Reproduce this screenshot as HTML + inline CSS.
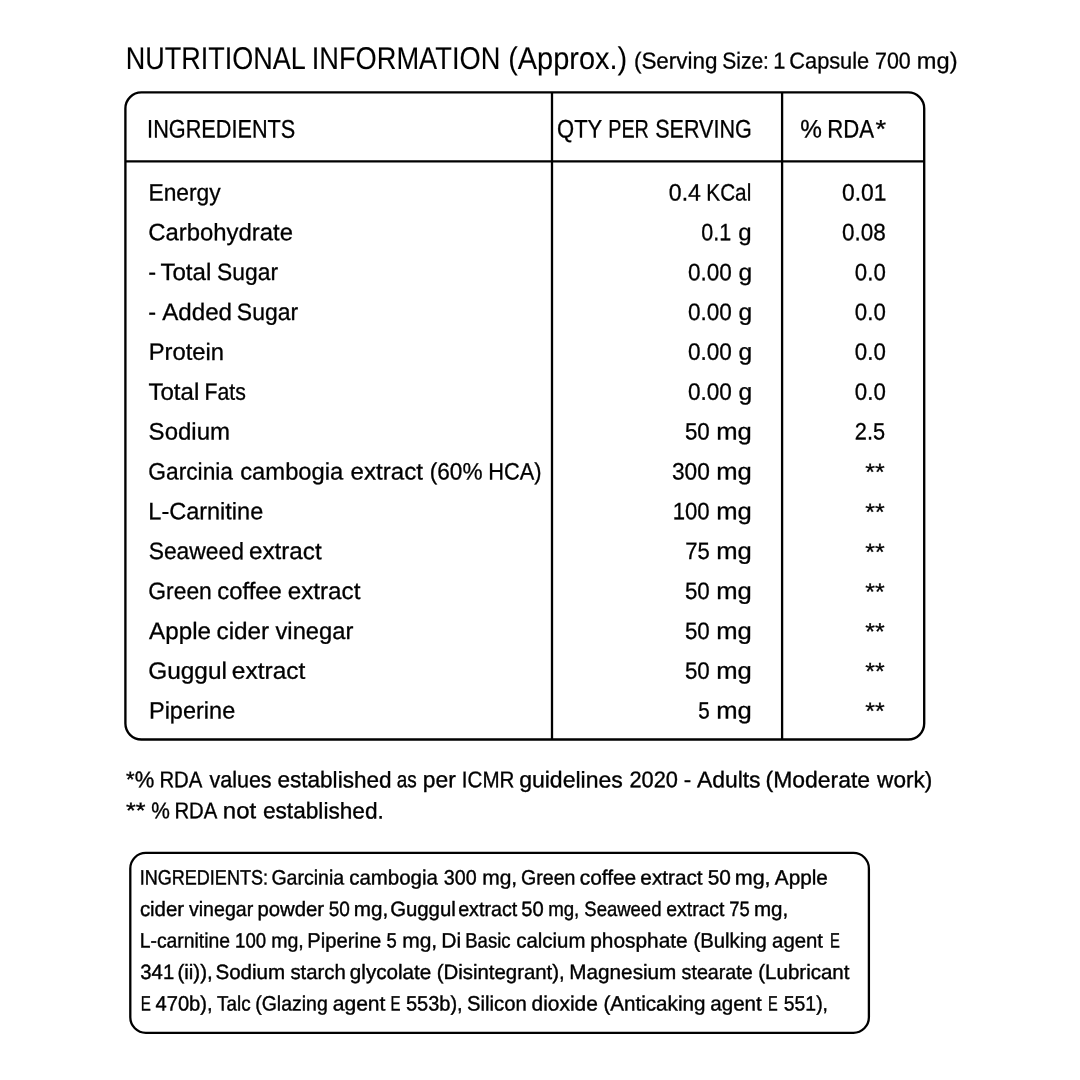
<!DOCTYPE html>
<html lang="en"><head><meta charset="utf-8"><title>Nutritional Information</title>
<style>
html,body{margin:0;padding:0;background:#fff}
body{width:1080px;height:1080px;position:relative;overflow:hidden;font-family:"Liberation Sans",sans-serif;color:#000}
#tx{position:absolute;left:0;top:0;width:1080px;height:1080px;will-change:transform;text-rendering:geometricPrecision}
.l{position:absolute;left:0;top:0;width:1080px;line-height:1;white-space:pre;-webkit-text-stroke:0.3px #000}
.l span{position:absolute;left:0;top:0;transform-origin:0 0;display:block}
</style></head><body>
<svg width="1080" height="1080" viewBox="0 0 1080 1080" style="position:absolute;left:0;top:0" fill="none" stroke="#000">
<rect x="125.4" y="92.4" width="798.8" height="647.1" rx="16" ry="16" stroke-width="2.35"/>
<path d="M552 92.4V739.5M782.1 92.4V739.5M125.4 161.4H924.2" stroke-width="2.3"/>
<rect x="130.3" y="852.9" width="738.6" height="179.9" rx="15.5" ry="15.5" stroke-width="2.3"/>
</svg>
<div id="tx">
<div class="l" style="font-size:31.4px;-webkit-text-stroke-width:0.1px"><span style="transform:translate(125.67px,42.90px) scaleX(0.8601) rotate(.03deg)">NUTRITIONAL</span> <span style="transform:translate(311.74px,42.90px) scaleX(0.8674) rotate(.03deg)">INFORMATION</span> <span style="transform:translate(508.20px,42.90px) scaleX(0.9215) rotate(.03deg)">(Approx.)</span></div>
<div class="l" style="font-size:23.0px"><span style="transform:translate(633.92px,49.55px) scaleX(0.9761) rotate(.03deg)">(Serving</span> <span style="transform:translate(722.29px,49.55px) scaleX(0.9120) rotate(.03deg)">Size:</span> <span style="transform:translate(773.24px,49.55px) scaleX(0.9507) rotate(.03deg)">1</span> <span style="transform:translate(789.31px,49.55px) scaleX(0.9465) rotate(.03deg)">Capsule</span> <span style="transform:translate(875.00px,49.55px) scaleX(0.9323) rotate(.03deg)">700</span> <span style="transform:translate(916.84px,49.55px) scaleX(1.0271) rotate(.03deg)">mg)</span></div>
<div class="l" style="font-size:25.4px"><span style="transform:translate(147.13px,117.55px) scaleX(0.8537) rotate(.03deg)">INGREDIENTS</span></div>
<div class="l" style="font-size:25.4px"><span style="transform:translate(557.05px,117.55px) scaleX(0.8672) rotate(.03deg)">QTY</span> <span style="transform:translate(608.27px,117.55px) scaleX(0.7781) rotate(.03deg)">PER</span> <span style="transform:translate(655.19px,117.55px) scaleX(0.8486) rotate(.03deg)">SERVING</span></div>
<div class="l" style="font-size:25.4px"><span style="transform:translate(800.31px,117.55px) scaleX(0.9594) rotate(.03deg)">%</span> <span style="transform:translate(827.23px,117.55px) scaleX(0.8732) rotate(.03deg)">RDA</span><span style="transform:translate(875.48px,117.55px) scaleX(1.0722) rotate(.03deg)">*</span></div>
<div class="l" style="font-size:23.7px"><span style="transform:translate(148.52px,182.45px) scaleX(0.9615) rotate(.03deg)">Energy</span></div>
<div class="l" style="font-size:23.7px"><span style="transform:translate(668.82px,182.45px) scaleX(0.9729) rotate(.03deg)">0.4</span> <span style="transform:translate(706.33px,182.45px) scaleX(0.8751) rotate(.03deg)">KCal</span></div>
<div class="l" style="font-size:23.7px"><span style="transform:translate(841.98px,182.45px) scaleX(0.9638) rotate(.03deg)">0.01</span></div>
<div class="l" style="font-size:23.7px"><span style="transform:translate(148.26px,222.30px) scaleX(1.0086) rotate(.03deg)">Carbohydrate</span></div>
<div class="l" style="font-size:23.7px"><span style="transform:translate(701.19px,222.30px) scaleX(0.9095) rotate(.03deg)">0.1</span> <span style="transform:translate(738.27px,222.30px) scaleX(1.0149) rotate(.03deg)">g</span></div>
<div class="l" style="font-size:23.7px"><span style="transform:translate(842.10px,222.30px) scaleX(0.9493) rotate(.03deg)">0.08</span></div>
<div class="l" style="font-size:23.7px"><span style="transform:translate(148.24px,262.02px) scaleX(0.9944) rotate(.03deg)">-</span> <span style="transform:translate(160.39px,262.02px) scaleX(1.0187) rotate(.03deg)">Total</span> <span style="transform:translate(217.13px,262.02px) scaleX(0.9631) rotate(.03deg)">Sugar</span></div>
<div class="l" style="font-size:23.7px"><span style="transform:translate(688.02px,262.16px) scaleX(0.9518) rotate(.03deg)">0.00</span> <span style="transform:translate(738.45px,262.16px) scaleX(1.0383) rotate(.03deg)">g</span></div>
<div class="l" style="font-size:23.7px"><span style="transform:translate(854.85px,262.16px) scaleX(0.9395) rotate(.03deg)">0.0</span></div>
<div class="l" style="font-size:23.7px"><span style="transform:translate(148.24px,302.00px) scaleX(0.9930) rotate(.03deg)">-</span> <span style="transform:translate(162.19px,302.00px) scaleX(1.0197) rotate(.03deg)">Added</span> <span style="transform:translate(236.86px,302.00px) scaleX(0.9684) rotate(.03deg)">Sugar</span></div>
<div class="l" style="font-size:23.7px"><span style="transform:translate(688.02px,302.00px) scaleX(0.9518) rotate(.03deg)">0.00</span> <span style="transform:translate(738.45px,302.00px) scaleX(1.0383) rotate(.03deg)">g</span></div>
<div class="l" style="font-size:23.7px"><span style="transform:translate(854.85px,302.00px) scaleX(0.9395) rotate(.03deg)">0.0</span></div>
<div class="l" style="font-size:23.7px"><span style="transform:translate(148.75px,341.85px) scaleX(1.0031) rotate(.03deg)">Protein</span></div>
<div class="l" style="font-size:23.7px"><span style="transform:translate(688.02px,341.85px) scaleX(0.9518) rotate(.03deg)">0.00</span> <span style="transform:translate(738.45px,341.85px) scaleX(1.0383) rotate(.03deg)">g</span></div>
<div class="l" style="font-size:23.7px"><span style="transform:translate(854.85px,341.83px) scaleX(0.9395) rotate(.03deg)">0.0</span></div>
<div class="l" style="font-size:23.7px"><span style="transform:translate(148.41px,381.70px) scaleX(1.0161) rotate(.03deg)">Total</span> <span style="transform:translate(204.49px,381.70px) scaleX(0.8970) rotate(.03deg)">Fats</span></div>
<div class="l" style="font-size:23.7px"><span style="transform:translate(688.02px,381.70px) scaleX(0.9518) rotate(.03deg)">0.00</span> <span style="transform:translate(738.45px,381.70px) scaleX(1.0383) rotate(.03deg)">g</span></div>
<div class="l" style="font-size:23.7px"><span style="transform:translate(854.85px,381.70px) scaleX(0.9395) rotate(.03deg)">0.0</span></div>
<div class="l" style="font-size:23.7px"><span style="transform:translate(148.62px,421.55px) scaleX(1.0141) rotate(.03deg)">Sodium</span></div>
<div class="l" style="font-size:23.7px"><span style="transform:translate(684.98px,421.55px) scaleX(0.9413) rotate(.03deg)">50</span> <span style="transform:translate(716.14px,421.55px) scaleX(1.0822) rotate(.03deg)">mg</span></div>
<div class="l" style="font-size:23.7px"><span style="transform:translate(854.78px,421.55px) scaleX(0.9190) rotate(.03deg)">2.5</span></div>
<div class="l" style="font-size:23.7px"><span style="transform:translate(148.29px,461.40px) scaleX(0.9607) rotate(.03deg)">Garcinia</span> <span style="transform:translate(240.22px,461.40px) scaleX(1.0040) rotate(.03deg)">cambogia</span> <span style="transform:translate(350.54px,461.40px) scaleX(1.0179) rotate(.03deg)">extract</span> <span style="transform:translate(429.80px,461.40px) scaleX(0.9535) rotate(.03deg)">(60%</span> <span style="transform:translate(488.18px,461.40px) scaleX(0.9204) rotate(.03deg)">HCA)</span></div>
<div class="l" style="font-size:23.7px"><span style="transform:translate(671.96px,461.40px) scaleX(0.9573) rotate(.03deg)">300</span> <span style="transform:translate(716.14px,461.40px) scaleX(1.0822) rotate(.03deg)">mg</span></div>
<div class="l" style="font-size:23.7px"><span style="transform:translate(865.27px,462.10px) scaleX(1.0519) rotate(.03deg)">**</span></div>
<div class="l" style="font-size:23.7px"><span style="transform:translate(148.33px,501.25px) scaleX(0.9917) rotate(.03deg)">L-Carnitine</span></div>
<div class="l" style="font-size:23.7px"><span style="transform:translate(672.73px,501.25px) scaleX(0.9354) rotate(.03deg)">100</span> <span style="transform:translate(716.14px,501.25px) scaleX(1.0822) rotate(.03deg)">mg</span></div>
<div class="l" style="font-size:23.7px"><span style="transform:translate(865.27px,501.95px) scaleX(1.0519) rotate(.03deg)">**</span></div>
<div class="l" style="font-size:23.7px"><span style="transform:translate(148.71px,541.10px) scaleX(0.9637) rotate(.03deg)">Seaweed</span> <span style="transform:translate(249.00px,541.10px) scaleX(1.0221) rotate(.03deg)">extract</span></div>
<div class="l" style="font-size:23.7px"><span style="transform:translate(685.20px,541.10px) scaleX(0.9302) rotate(.03deg)">75</span> <span style="transform:translate(716.14px,541.10px) scaleX(1.0822) rotate(.03deg)">mg</span></div>
<div class="l" style="font-size:23.7px"><span style="transform:translate(865.27px,541.94px) scaleX(1.0519) rotate(.03deg)">**</span></div>
<div class="l" style="font-size:23.7px"><span style="transform:translate(148.28px,580.95px) scaleX(0.9651) rotate(.03deg)">Green</span> <span style="transform:translate(217.31px,580.95px) scaleX(1.0073) rotate(.03deg)">coffee</span> <span style="transform:translate(287.70px,580.95px) scaleX(1.0235) rotate(.03deg)">extract</span></div>
<div class="l" style="font-size:23.7px"><span style="transform:translate(684.98px,580.95px) scaleX(0.9413) rotate(.03deg)">50</span> <span style="transform:translate(716.14px,580.95px) scaleX(1.0822) rotate(.03deg)">mg</span></div>
<div class="l" style="font-size:23.7px"><span style="transform:translate(865.27px,581.65px) scaleX(1.0519) rotate(.03deg)">**</span></div>
<div class="l" style="font-size:23.7px"><span style="transform:translate(149.13px,620.90px) scaleX(1.0219) rotate(.03deg)">Apple</span> <span style="transform:translate(216.47px,620.90px) scaleX(1.0278) rotate(.03deg)">cider</span> <span style="transform:translate(275.50px,620.90px) scaleX(1.0022) rotate(.03deg)">vinegar</span></div>
<div class="l" style="font-size:23.7px"><span style="transform:translate(684.98px,620.96px) scaleX(0.9413) rotate(.03deg)">50</span> <span style="transform:translate(716.14px,620.96px) scaleX(1.0822) rotate(.03deg)">mg</span></div>
<div class="l" style="font-size:23.7px"><span style="transform:translate(865.27px,621.50px) scaleX(1.0519) rotate(.03deg)">**</span></div>
<div class="l" style="font-size:23.7px"><span style="transform:translate(148.22px,660.65px) scaleX(1.0303) rotate(.03deg)">Guggul</span> <span style="transform:translate(231.86px,660.65px) scaleX(1.0327) rotate(.03deg)">extract</span></div>
<div class="l" style="font-size:23.7px"><span style="transform:translate(684.98px,660.65px) scaleX(0.9413) rotate(.03deg)">50</span> <span style="transform:translate(716.14px,660.65px) scaleX(1.0822) rotate(.03deg)">mg</span></div>
<div class="l" style="font-size:23.7px"><span style="transform:translate(865.27px,661.35px) scaleX(1.0519) rotate(.03deg)">**</span></div>
<div class="l" style="font-size:23.7px"><span style="transform:translate(148.96px,700.50px) scaleX(0.9926) rotate(.03deg)">Piperine</span></div>
<div class="l" style="font-size:23.7px"><span style="transform:translate(698.28px,700.50px) scaleX(0.8677) rotate(.03deg)">5</span> <span style="transform:translate(716.14px,700.50px) scaleX(1.0822) rotate(.03deg)">mg</span></div>
<div class="l" style="font-size:23.7px"><span style="transform:translate(865.27px,701.10px) scaleX(1.0519) rotate(.03deg)">**</span></div>
<div class="l" style="font-size:22.7px;-webkit-text-stroke-width:0.35px"><span style="transform:translate(126.10px,768.35px) scaleX(0.9688) rotate(.03deg)">*%</span> <span style="transform:translate(159.43px,768.35px) scaleX(0.8955) rotate(.03deg)">RDA</span> <span style="transform:translate(209.44px,768.35px) scaleX(0.9479) rotate(.03deg)">values</span> <span style="transform:translate(277.47px,768.35px) scaleX(0.9938) rotate(.03deg)">established</span> <span style="transform:translate(396.72px,768.35px) scaleX(0.8351) rotate(.03deg)">as</span> <span style="transform:translate(422.84px,768.35px) scaleX(1.0046) rotate(.03deg)">per</span> <span style="transform:translate(461.88px,768.35px) scaleX(0.9067) rotate(.03deg)">ICMR</span> <span style="transform:translate(519.14px,768.35px) scaleX(1.0152) rotate(.03deg)">guidelines</span> <span style="transform:translate(629.43px,768.35px) scaleX(0.9611) rotate(.03deg)">2020</span> <span style="transform:translate(683.82px,768.35px) scaleX(0.9820) rotate(.03deg)">-</span> <span style="transform:translate(696.95px,768.35px) scaleX(1.0088) rotate(.03deg)">Adults</span> <span style="transform:translate(765.58px,768.35px) scaleX(1.0109) rotate(.03deg)">(Moderate</span> <span style="transform:translate(877.12px,768.35px) scaleX(0.9955) rotate(.03deg)">work)</span></div>
<div class="l" style="font-size:22.7px;-webkit-text-stroke-width:0.35px"><span style="transform:translate(125.99px,799.35px) scaleX(1.0996) rotate(.03deg)">**</span> <span style="transform:translate(151.25px,799.35px) scaleX(0.9232) rotate(.03deg)">%</span> <span style="transform:translate(174.43px,799.35px) scaleX(0.8955) rotate(.03deg)">RDA</span> <span style="transform:translate(222.82px,799.35px) scaleX(1.0560) rotate(.03deg)">not</span> <span style="transform:translate(262.96px,799.35px) scaleX(0.9982) rotate(.03deg)">established.</span></div>
<div class="l" style="font-size:20.7px;-webkit-text-stroke-width:0.4px"><span style="transform:translate(139.65px,868.55px) scaleX(0.8727) rotate(.03deg)">INGREDIENTS:</span> <span style="transform:translate(271.43px,868.55px) scaleX(0.9436) rotate(.03deg)">Garcinia</span> <span style="transform:translate(349.25px,868.55px) scaleX(0.9880) rotate(.03deg)">cambogia</span> <span style="transform:translate(443.83px,868.55px) scaleX(0.9503) rotate(.03deg)">300</span> <span style="transform:translate(482.18px,868.55px) scaleX(1.0137) rotate(.03deg)">mg,</span> <span style="transform:translate(521.10px,868.55px) scaleX(0.9464) rotate(.03deg)">Green</span> <span style="transform:translate(579.70px,868.55px) scaleX(1.0097) rotate(.03deg)">coffee</span> <span style="transform:translate(640.34px,868.55px) scaleX(1.0034) rotate(.03deg)">extract</span> <span style="transform:translate(707.78px,868.55px) scaleX(1.0081) rotate(.03deg)">50</span> <span style="transform:translate(734.75px,868.55px) scaleX(1.0386) rotate(.03deg)">mg,</span> <span style="transform:translate(774.83px,868.55px) scaleX(1.0008) rotate(.03deg)">Apple</span></div>
<div class="l" style="font-size:20.7px;-webkit-text-stroke-width:0.4px"><span style="transform:translate(139.91px,900.05px) scaleX(0.9853) rotate(.03deg)">cider</span> <span style="transform:translate(188.96px,900.05px) scaleX(0.9467) rotate(.03deg)">vinegar</span> <span style="transform:translate(257.40px,900.05px) scaleX(0.9820) rotate(.03deg)">powder</span> <span style="transform:translate(328.64px,900.05px) scaleX(0.9194) rotate(.03deg)">50</span> <span style="transform:translate(353.84px,900.05px) scaleX(0.9981) rotate(.03deg)">mg,</span> <span style="transform:translate(390.14px,900.05px) scaleX(0.9836) rotate(.03deg)">Guggul</span> <span style="transform:translate(458.18px,900.05px) scaleX(0.9504) rotate(.03deg)">extract</span> <span style="transform:translate(521.33px,900.05px) scaleX(0.9735) rotate(.03deg)">50</span> <span style="transform:translate(548.16px,900.05px) scaleX(0.9020) rotate(.03deg)">mg,</span> <span style="transform:translate(584.36px,900.05px) scaleX(0.8933) rotate(.03deg)">Seaweed</span> <span style="transform:translate(666.30px,900.05px) scaleX(0.9361) rotate(.03deg)">extract</span> <span style="transform:translate(729.38px,900.05px) scaleX(0.8908) rotate(.03deg)">75</span> <span style="transform:translate(753.94px,900.05px) scaleX(0.9944) rotate(.03deg)">mg,</span></div>
<div class="l" style="font-size:20.7px;-webkit-text-stroke-width:0.4px"><span style="transform:translate(139.75px,931.55px) scaleX(0.9350) rotate(.03deg)">L-carnitine</span> <span style="transform:translate(235.05px,931.55px) scaleX(0.8981) rotate(.03deg)">100</span> <span style="transform:translate(271.20px,931.55px) scaleX(0.9454) rotate(.03deg)">mg,</span> <span style="transform:translate(307.31px,931.55px) scaleX(0.9752) rotate(.03deg)">Piperine</span> <span style="transform:translate(386.42px,931.55px) scaleX(0.8919) rotate(.03deg)">5</span> <span style="transform:translate(402.18px,931.55px) scaleX(1.0137) rotate(.03deg)">mg,</span> <span style="transform:translate(441.23px,931.55px) scaleX(1.0186) rotate(.03deg)">Di</span> <span style="transform:translate(465.25px,931.55px) scaleX(0.8952) rotate(.03deg)">Basic</span> <span style="transform:translate(516.25px,931.55px) scaleX(0.9857) rotate(.03deg)">calcium</span> <span style="transform:translate(590.28px,931.55px) scaleX(1.0082) rotate(.03deg)">phosphate</span> <span style="transform:translate(693.44px,931.55px) scaleX(0.9802) rotate(.03deg)">(Bulking</span> <span style="transform:translate(772.11px,931.55px) scaleX(0.9833) rotate(.03deg)">agent</span> <span style="transform:translate(830.07px,931.55px) scaleX(0.7143) rotate(.03deg)">E</span></div>
<div class="l" style="font-size:20.7px;-webkit-text-stroke-width:0.4px"><span style="transform:translate(140.36px,963.05px) scaleX(0.9794) rotate(.03deg)">341</span> <span style="transform:translate(177.39px,963.05px) scaleX(0.9918) rotate(.03deg)">(ii)),</span> <span style="transform:translate(215.46px,963.05px) scaleX(0.9937) rotate(.03deg)">Sodium</span> <span style="transform:translate(290.42px,963.05px) scaleX(0.9813) rotate(.03deg)">starch</span> <span style="transform:translate(349.88px,963.05px) scaleX(0.9974) rotate(.03deg)">glycolate</span> <span style="transform:translate(436.73px,963.05px) scaleX(0.9852) rotate(.03deg)">(Disintegrant),</span> <span style="transform:translate(569.30px,963.05px) scaleX(1.0013) rotate(.03deg)">Magnesium</span> <span style="transform:translate(681.57px,963.05px) scaleX(0.9520) rotate(.03deg)">stearate</span> <span style="transform:translate(758.29px,963.05px) scaleX(0.9913) rotate(.03deg)">(Lubricant</span></div>
<div class="l" style="font-size:20.7px;-webkit-text-stroke-width:0.4px"><span style="transform:translate(140.85px,994.55px) scaleX(0.7313) rotate(.03deg)">E</span> <span style="transform:translate(155.57px,994.55px) scaleX(0.9721) rotate(.03deg)">470b),</span> <span style="transform:translate(217.11px,994.55px) scaleX(0.9113) rotate(.03deg)">Talc</span> <span style="transform:translate(255.21px,994.55px) scaleX(0.9412) rotate(.03deg)">(Glazing</span> <span style="transform:translate(332.68px,994.55px) scaleX(1.0193) rotate(.03deg)">agent</span> <span style="transform:translate(390.56px,994.55px) scaleX(0.7234) rotate(.03deg)">E</span> <span style="transform:translate(405.97px,994.55px) scaleX(0.9654) rotate(.03deg)">553b),</span> <span style="transform:translate(467.00px,994.55px) scaleX(0.9792) rotate(.03deg)">Silicon</span> <span style="transform:translate(531.57px,994.55px) scaleX(1.0112) rotate(.03deg)">dioxide</span> <span style="transform:translate(603.39px,994.55px) scaleX(0.9971) rotate(.03deg)">(Anticaking</span> <span style="transform:translate(710.33px,994.55px) scaleX(0.9928) rotate(.03deg)">agent</span> <span style="transform:translate(767.92px,994.55px) scaleX(0.7028) rotate(.03deg)">E</span> <span style="transform:translate(783.75px,994.55px) scaleX(0.9387) rotate(.03deg)">551),</span></div>
</div>
</body></html>
